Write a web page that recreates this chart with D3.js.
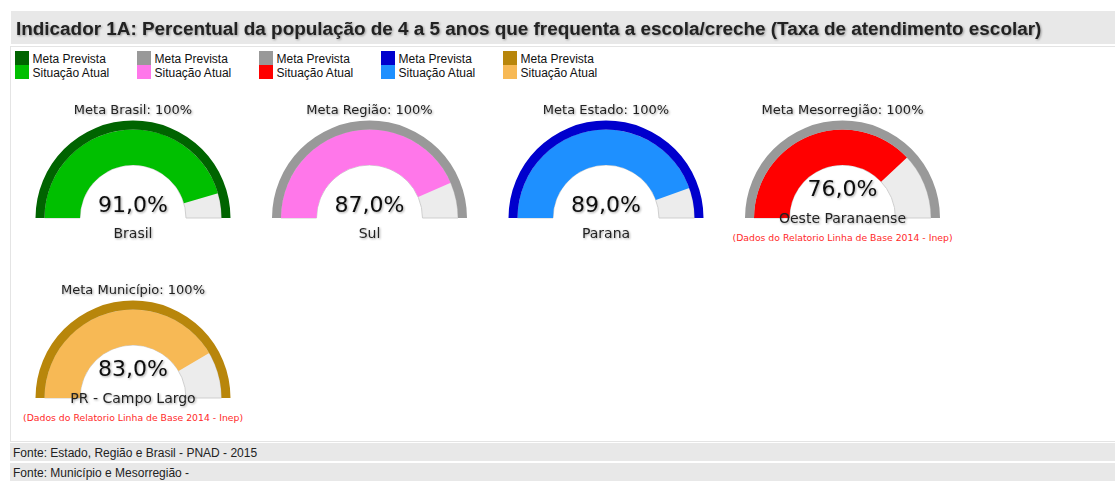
<!DOCTYPE html>
<html>
<head>
<meta charset="utf-8">
<script src="https://cdn.jsdelivr.net/npm/d3@7"></script>
<style>
  body { margin: 0; background: #fff; }
  svg { display: block; }
</style>
</head>
<body>
<svg id="chart" width="1115" height="490"></svg>
<script>
const title = "Indicador 1A: Percentual da população de 4 a 5 anos que frequenta a escola/creche (Taxa de atendimento escolar)";
const metaNames = ["Brasil", "Região", "Estado", "Mesorregião", "Município"];
const metaValues = [100, 100, 100, 100, 100];
const currentValues = [91, 87, 89, 76, 83];
const places = ["Brasil", "Sul", "Parana", "Oeste Paranaense", "PR - Campo Largo"];
const notes = ["", "", "", "(Dados do Relatorio Linha de Base 2014 - Inep)", "(Dados do Relatorio Linha de Base 2014 - Inep)"];
const metaColors = ["#006400", "#999999", "#999999", "#0000cd", "#b8860b"];
const currentColors = ["#00bf00", "#ff77ea", "#ff0000", "#1e90ff", "#f7b955"];
// gauge colours follow Brasil, Região, Estado, Mesorregião, Município
const gaugeMeta = ["#006400", "#999999", "#0000cd", "#999999", "#b8860b"];
const gaugeCurrent = ["#00bf00", "#ff77ea", "#1e90ff", "#ff0000", "#f7b955"];
const legendLabels = ["Meta Prevista", "Situação Atual"];
const sources = ["Fonte: Estado, Região e Brasil - PNAD - 2015", "Fonte: Município e Mesorregião -"];

const svg = d3.select("#chart");
const W = 1115;

const defs = svg.append("defs");
const shadow = defs.append("filter").attr("id", "shadow")
  .attr("x", "-10%").attr("y", "-30%").attr("width", "120%").attr("height", "160%");
shadow.append("feDropShadow")
  .attr("dx", 1).attr("dy", 1).attr("stdDeviation", 1)
  .attr("flood-color", "#000").attr("flood-opacity", 0.35);

// title bar
svg.append("rect").attr("x", 11).attr("y", 11).attr("width", W - 11).attr("height", 33).attr("fill", "#e8e8e8");
svg.append("text")
  .attr("x", 16).attr("y", 35)
  .attr("font-family", "Liberation Sans, Arial, sans-serif")
  .attr("font-size", "18.9px").attr("font-weight", "bold")
  .attr("fill", "#222").attr("filter", "url(#shadow)")
  .text(title);

// panel
svg.append("rect").attr("x", 10.5).attr("y", 46.5).attr("width", W - 10).attr("height", 395)
  .attr("fill", "#fff").attr("stroke", "#e4e4e4");

// legend
const legend = svg.append("g").attr("transform", "translate(15,51)");
const item = legend.selectAll("g.item")
  .data(metaColors.map((m, i) => ({ meta: m, cur: currentColors[i] })))
  .enter().append("g").attr("class", "item")
  .attr("transform", (d, i) => `translate(${i * 122},0)`);
item.append("rect").attr("width", 14).attr("height", 14).attr("fill", d => d.meta);
item.append("rect").attr("y", 14).attr("width", 14).attr("height", 14).attr("fill", d => d.cur);
legendLabels.forEach((lab, k) => {
  item.append("text")
    .attr("x", 17.5).attr("y", 12 + k * 13.5)
    .attr("font-family", "Liberation Sans, Arial, sans-serif")
    .attr("font-size", "12px").attr("fill", "#111")
    .text(lab);
});

// gauges
const angle = d3.scaleLinear().domain([0, 100]).range([-Math.PI / 2, Math.PI / 2]);
const col = d3.scaleLinear().domain([0, 3]).range([133, 842.5]);
const row = d3.scaleLinear().domain([0, 1]).range([218, 398]);
const rIn = 53, rMid = 88.5, rOut = 97.5;
const fmt = v => d3.format(".1f")(v).replace(".", ",") + "%";

const data = currentValues.map((v, i) => ({
  value: v, meta: metaValues[i], name: metaNames[i], place: places[i], note: notes[i],
  metaColor: gaugeMeta[i], curColor: gaugeCurrent[i], col: i % 4, row: Math.floor(i / 4)
}));

const gauge = svg.selectAll("g.gauge").data(data).enter().append("g")
  .attr("class", "gauge")
  .attr("transform", d => `translate(${col(d.col)},${row(d.row)})`);

gauge.append("path")
  .attr("d", d3.arc().innerRadius(rIn).outerRadius(rMid).startAngle(angle(0)).endAngle(angle(100)))
  .attr("fill", "#ececec").attr("stroke", "#cfcfcf").attr("stroke-width", 1);
gauge.append("path")
  .attr("d", d => d3.arc().innerRadius(rIn).outerRadius(rMid).startAngle(angle(0)).endAngle(angle(d.value))())
  .attr("fill", d => d.curColor);
gauge.append("path")
  .attr("d", d => d3.arc().innerRadius(rMid).outerRadius(rOut).startAngle(angle(0)).endAngle(angle(d.meta))())
  .attr("fill", d => d.metaColor);

const font = "DejaVu Sans, Verdana, sans-serif";
gauge.append("text")
  .attr("y", -104).attr("text-anchor", "middle")
  .attr("font-family", font).attr("font-size", "13px").attr("fill", "#222")
  .attr("filter", "url(#shadow)")
  .text(d => `Meta ${d.name}: ${d.meta}%`);
gauge.append("text")
  .attr("y", d => d.note ? -22 : -6).attr("text-anchor", "middle")
  .attr("font-family", font).attr("font-size", "22px").attr("fill", "#111")
  .attr("filter", "url(#shadow)")
  .text(d => fmt(d.value));
gauge.append("text")
  .attr("y", d => d.note ? 5 : 20).attr("text-anchor", "middle")
  .attr("font-family", font).attr("font-size", "14px").attr("fill", "#222")
  .attr("filter", "url(#shadow)")
  .text(d => d.place);
gauge.filter(d => d.note).append("text")
  .attr("y", 23).attr("text-anchor", "middle")
  .attr("font-family", font).attr("font-size", "9.3px").attr("fill", "#ff2a2a")
  .text(d => d.note);

// sources
const src = svg.selectAll("g.src").data(sources).enter().append("g")
  .attr("class", "src")
  .attr("transform", (d, i) => `translate(10,${443 + i * 20})`);
src.append("rect").attr("width", W - 10).attr("height", 18).attr("fill", "#e8e8e8");
src.append("text")
  .attr("x", 3).attr("y", 14)
  .attr("font-family", "Liberation Sans, Arial, sans-serif")
  .attr("font-size", "12px").attr("fill", "#222")
  .text(d => d);
</script>
</body>
</html>
